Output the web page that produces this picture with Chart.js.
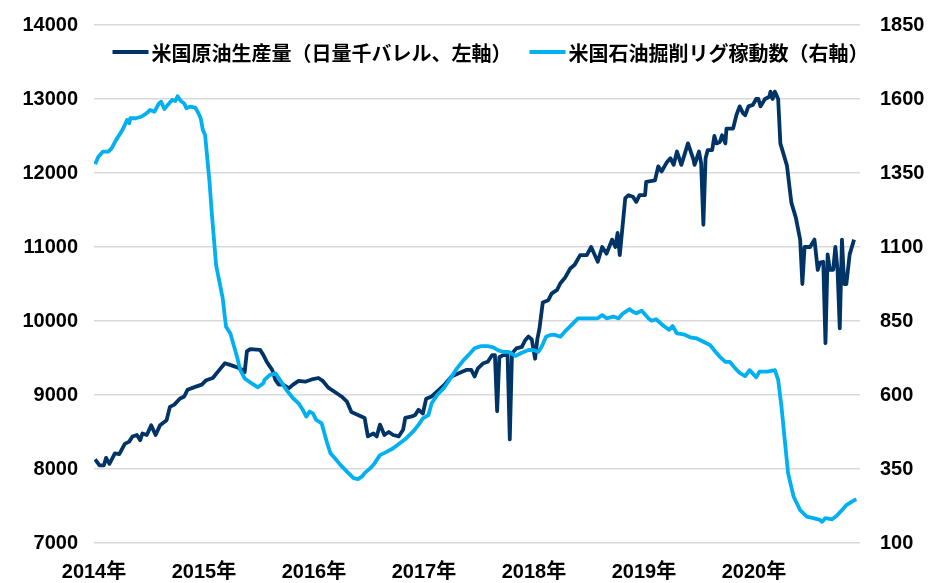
<!DOCTYPE html>
<html>
<head>
<meta charset="utf-8">
<script src="https://cdn.jsdelivr.net/npm/chart.js@4.4.1/dist/chart.umd.min.js"></script>
<style>
  html, body { margin: 0; padding: 0; background: #ffffff; }
  #wrap { width: 929px; height: 583px; position: relative; }
</style>
</head>
<body>
<div id="wrap"><canvas id="c" width="929" height="583"></canvas></div>
<script>
// ---------- DATA ----------
const yearTicks = [2014, 2015, 2016, 2017, 2018, 2019, 2020];
const yearSuffix = '年';

const prodLabel = '米国原油生産量（日量千バレル、左軸）';
const rigLabel = '米国石油掘削リグ稼動数（右軸）';

// US crude oil production, thousand b/d (left axis); dates as decimal years
const prodDates = [
  2014.01, 2014.05, 2014.09, 2014.11, 2014.14, 2014.19, 2014.23, 2014.28, 2014.32, 2014.35,
  2014.39, 2014.42, 2014.44, 2014.48, 2014.52, 2014.56, 2014.60, 2014.66, 2014.69, 2014.73,
  2014.78, 2014.82, 2014.85, 2014.92, 2014.98, 2015.02, 2015.08, 2015.14, 2015.19, 2015.23,
  2015.29, 2015.35, 2015.37, 2015.39, 2015.42, 2015.51, 2015.54, 2015.57, 2015.62, 2015.65,
  2015.68, 2015.72, 2015.77, 2015.81, 2015.86, 2015.92, 2015.98, 2016.04, 2016.08, 2016.13,
  2016.19, 2016.25, 2016.30, 2016.34, 2016.40, 2016.46, 2016.49, 2016.54, 2016.57, 2016.60,
  2016.64, 2016.68, 2016.72, 2016.77, 2016.81, 2016.83, 2016.89, 2016.92, 2016.95, 2016.99,
  2017.02, 2017.07, 2017.12, 2017.18, 2017.25, 2017.31, 2017.39, 2017.43, 2017.46, 2017.49,
  2017.54, 2017.58, 2017.62, 2017.645, 2017.665, 2017.685, 2017.72, 2017.76, 2017.78, 2017.80,
  2017.84, 2017.89, 2017.92, 2017.95, 2017.98, 2018.01, 2018.03, 2018.05, 2018.08, 2018.13,
  2018.16, 2018.21, 2018.24, 2018.28, 2018.33, 2018.37, 2018.42, 2018.48, 2018.52, 2018.58,
  2018.62, 2018.66, 2018.71, 2018.74, 2018.76, 2018.78, 2018.83, 2018.86, 2018.90, 2018.93,
  2018.96, 2019.01, 2019.02, 2019.10, 2019.13, 2019.16, 2019.21, 2019.24, 2019.27, 2019.30,
  2019.34, 2019.40, 2019.45, 2019.46, 2019.50, 2019.52, 2019.54, 2019.56, 2019.58, 2019.62,
  2019.64, 2019.66, 2019.69, 2019.71, 2019.74, 2019.75, 2019.81, 2019.84, 2019.87, 2019.90,
  2019.92, 2019.95, 2019.99, 2020.02, 2020.04, 2020.06, 2020.10, 2020.14, 2020.15, 2020.17,
  2020.19, 2020.22, 2020.24, 2020.30, 2020.34, 2020.38, 2020.42, 2020.44, 2020.46, 2020.51,
  2020.55, 2020.58, 2020.60, 2020.63, 2020.65, 2020.67, 2020.69, 2020.72, 2020.74, 2020.76,
  2020.78, 2020.80, 2020.82, 2020.84, 2020.87, 2020.91
];
const prodValues = [
  8130, 8050, 8050, 8150, 8070, 8210, 8200, 8340, 8370, 8440,
  8460, 8390, 8480, 8460, 8590, 8460, 8590, 8660, 8840, 8870,
  8950, 8980, 9070, 9110, 9140, 9200, 9230, 9340, 9430, 9410,
  9380, 9340, 9310, 9590, 9620, 9610, 9540, 9450, 9340, 9200,
  9140, 9140, 9090, 9140, 9190, 9180, 9210, 9230, 9190, 9100,
  9040, 8980, 8910, 8770, 8730, 8690, 8440, 8480, 8440, 8600,
  8460, 8500, 8460, 8440, 8530, 8690, 8710, 8730, 8800, 8750,
  8950, 8980, 9050, 9130, 9250, 9290, 9340, 9340, 9250, 9360,
  9430, 9450, 9540, 9540, 8780, 9510, 9540, 9540, 8400, 9560,
  9630, 9650, 9740, 9790, 9750, 9490, 9750, 9900, 10250, 10280,
  10370, 10420, 10510, 10580, 10710, 10760, 10890, 10890, 11000, 10800,
  11000, 10910, 11100, 11000, 11190, 10890, 11660, 11700, 11680, 11610,
  11700, 11700, 11880, 11900, 12090, 12020, 12150, 12200, 12110, 12290,
  12110, 12400, 12180, 12110, 12290, 12130, 11300, 12200, 12310, 12310,
  12500, 12400, 12420, 12510, 12400, 12600, 12600, 12780, 12900, 12810,
  12780, 12900, 12920, 13000, 13000, 12900, 13000, 13030, 13100, 13000,
  13100, 13000, 12400, 12100, 11600, 11400, 11100, 10500, 11000, 11000,
  11100, 10690, 10790, 10800, 9700, 10900, 10690, 10690, 11000, 10690,
  9900, 11100, 10500, 10500, 10900, 11100
];

// US oil rig count (right axis); dates as decimal years
const rigDates = [
  2014.01, 2014.04, 2014.08, 2014.13, 2014.16, 2014.20, 2014.25, 2014.28, 2014.30, 2014.32,
  2014.33, 2014.38, 2014.43, 2014.48, 2014.51, 2014.55, 2014.59, 2014.61, 2014.64, 2014.67,
  2014.71, 2014.74, 2014.76, 2014.79, 2014.82, 2014.84, 2014.87, 2014.92, 2014.95, 2014.97,
  2014.99, 2015.01, 2015.03, 2015.05, 2015.07, 2015.09, 2015.11, 2015.14, 2015.17, 2015.20,
  2015.24, 2015.30, 2015.33, 2015.37, 2015.43, 2015.49, 2015.54, 2015.55, 2015.60, 2015.65,
  2015.69, 2015.75, 2015.81, 2015.86, 2015.90, 2015.93, 2015.96, 2015.99, 2016.02, 2016.07,
  2016.12, 2016.15, 2016.19, 2016.24, 2016.30, 2016.36, 2016.40, 2016.44, 2016.46, 2016.51,
  2016.55, 2016.60, 2016.66, 2016.72, 2016.78, 2016.84, 2016.90, 2016.95, 2016.99, 2017.04,
  2017.07, 2017.12, 2017.18, 2017.24, 2017.30, 2017.36, 2017.42, 2017.46, 2017.52, 2017.58,
  2017.63, 2017.68, 2017.72, 2017.77, 2017.83, 2017.89, 2017.95, 2017.99, 2018.04, 2018.07,
  2018.11, 2018.15, 2018.19, 2018.24, 2018.28, 2018.34, 2018.40, 2018.48, 2018.54, 2018.58,
  2018.62, 2018.66, 2018.72, 2018.77, 2018.81, 2018.87, 2018.90, 2018.93, 2018.98, 2019.04,
  2019.07, 2019.11, 2019.18, 2019.23, 2019.26, 2019.30, 2019.36, 2019.42, 2019.48, 2019.54,
  2019.60, 2019.65, 2019.69, 2019.74, 2019.78, 2019.83, 2019.87, 2019.92, 2019.96, 2020.02,
  2020.05, 2020.12, 2020.19, 2020.22, 2020.25, 2020.28, 2020.31, 2020.36, 2020.42, 2020.48,
  2020.54, 2020.60, 2020.62, 2020.65, 2020.71, 2020.75, 2020.80, 2020.84, 2020.89, 2020.93
];
const rigValues = [
  1380, 1405, 1422, 1422, 1433, 1461, 1490, 1512, 1529, 1518,
  1535, 1535, 1540, 1552, 1563, 1557, 1585, 1591, 1566, 1580,
  1597, 1593, 1609, 1593, 1585, 1569, 1574, 1571, 1552, 1535,
  1495, 1478, 1400, 1321, 1219, 1129, 1039, 983, 927, 831,
  808, 729, 684, 656, 640, 626, 640, 651, 668, 673,
  651, 617, 589, 572, 549, 527, 544, 538, 516, 504,
  437, 403, 386, 364, 341, 319, 316, 326, 336, 352,
  369, 397, 408, 420, 437, 454, 476, 499, 521, 532,
  572, 600, 623, 656, 690, 718, 741, 758, 765, 765,
  761, 750, 746, 746, 732, 743, 752, 752, 746, 763,
  797, 803, 803, 797, 814, 836, 859, 859, 859, 859,
  870, 859, 865, 859, 876, 890, 881, 876, 885, 859,
  851, 856, 833, 820, 833, 808, 805, 795, 791, 780,
  769, 746, 729, 712, 712, 690, 675, 664, 684, 660,
  679, 679, 684, 651, 561, 448, 336, 257, 211, 189,
  184, 178, 172, 184, 180, 191, 211, 228, 240, 248
];

// ---------- STYLE ----------
const prodColor = '#003366';
const rigColor = '#00B0F0';
const gridColor = '#D9D9D9';
const tickFont = { family: '"Liberation Sans", Arial, "Noto Sans CJK JP", sans-serif', size: 20, weight: 'bold' };
const legendFontCss = 'bold 20px "Noto Sans CJK JP", "Liberation Sans", sans-serif';

const overlayLegend = {
  id: 'overlayLegend',
  afterDraw(chart) {
    const ctx = chart.ctx;
    const area = chart.chartArea;
    const sample = 36, gapText = 3, gapItem = 18;
    ctx.save();
    ctx.font = legendFontCss;
    const items = chart.data.datasets.map(ds => ({ label: ds.label, color: ds.borderColor, w: ctx.measureText(ds.label).width }));
    let total = 0;
    items.forEach((it, i) => { total += sample + gapText + it.w + (i ? gapItem : 0); });
    let x = (area.left + area.right) / 2 - total / 2 + 13.5;
    const y = area.top + 27;
    items.forEach(it => {
      ctx.strokeStyle = it.color;
      ctx.lineWidth = 4;
      ctx.beginPath();
      ctx.moveTo(x, y);
      ctx.lineTo(x + sample, y);
      ctx.stroke();
      ctx.fillStyle = '#000000';
      ctx.textBaseline = 'middle';
      ctx.textAlign = 'left';
      ctx.fillText(it.label, x + sample + gapText, y + 1);
      x += sample + gapText + it.w + gapItem;
    });
    ctx.restore();
  }
};

const plainNumber = v => String(v);
const fitVertical = w => s => { s.width = w; s.paddingTop = 0; s.paddingBottom = 0; };

const ctx = document.getElementById('c').getContext('2d');
new Chart(ctx, {
  type: 'line',
  data: {
    datasets: [
      {
        label: prodLabel,
        data: prodDates.map((d, i) => ({ x: d, y: prodValues[i] })),
        yAxisID: 'y',
        borderColor: prodColor,
        backgroundColor: prodColor,
        borderWidth: 3.8,
        pointRadius: 0,
        tension: 0,
        borderJoinStyle: 'round',
        order: 1
      },
      {
        label: rigLabel,
        data: rigDates.map((d, i) => ({ x: d, y: rigValues[i] })),
        yAxisID: 'y1',
        borderColor: rigColor,
        backgroundColor: rigColor,
        borderWidth: 3.8,
        pointRadius: 0,
        tension: 0,
        borderJoinStyle: 'round',
        order: 0
      }
    ]
  },
  options: {
    responsive: false,
    animation: false,
    layout: { padding: { top: 25, left: 0, right: 0, bottom: 0 }, autoPadding: false },
    plugins: {
      legend: { display: false },
      tooltip: { enabled: false }
    },
    scales: {
      x: {
        type: 'linear',
        min: 2014,
        max: 2020.964,
        afterBuildTicks: s => { s.ticks = yearTicks.map(v => ({ value: v })); },
        ticks: {
          callback: v => v + yearSuffix,
          font: tickFont,
          color: '#000000',
          padding: 17,
          maxRotation: 0,
          autoSkip: false
        },
        grid: { display: false, drawTicks: false },
        border: { display: false },
        afterFit: s => { s.height = 40; }
      },
      y: {
        position: 'left',
        min: 7000,
        max: 14000,
        ticks: { stepSize: 1000, font: tickFont, color: '#000000', padding: 16, callback: plainNumber },
        grid: { color: gridColor, lineWidth: 1.5, drawTicks: false },
        border: { display: false },
        afterFit: fitVertical(94)
      },
      y1: {
        position: 'right',
        min: 100,
        max: 1850,
        ticks: { stepSize: 250, font: tickFont, color: '#000000', padding: 20, callback: plainNumber },
        grid: { drawOnChartArea: false, drawTicks: false },
        border: { display: false },
        afterFit: fitVertical(69)
      }
    }
  },
  plugins: [overlayLegend]
});
</script>
</body>
</html>
